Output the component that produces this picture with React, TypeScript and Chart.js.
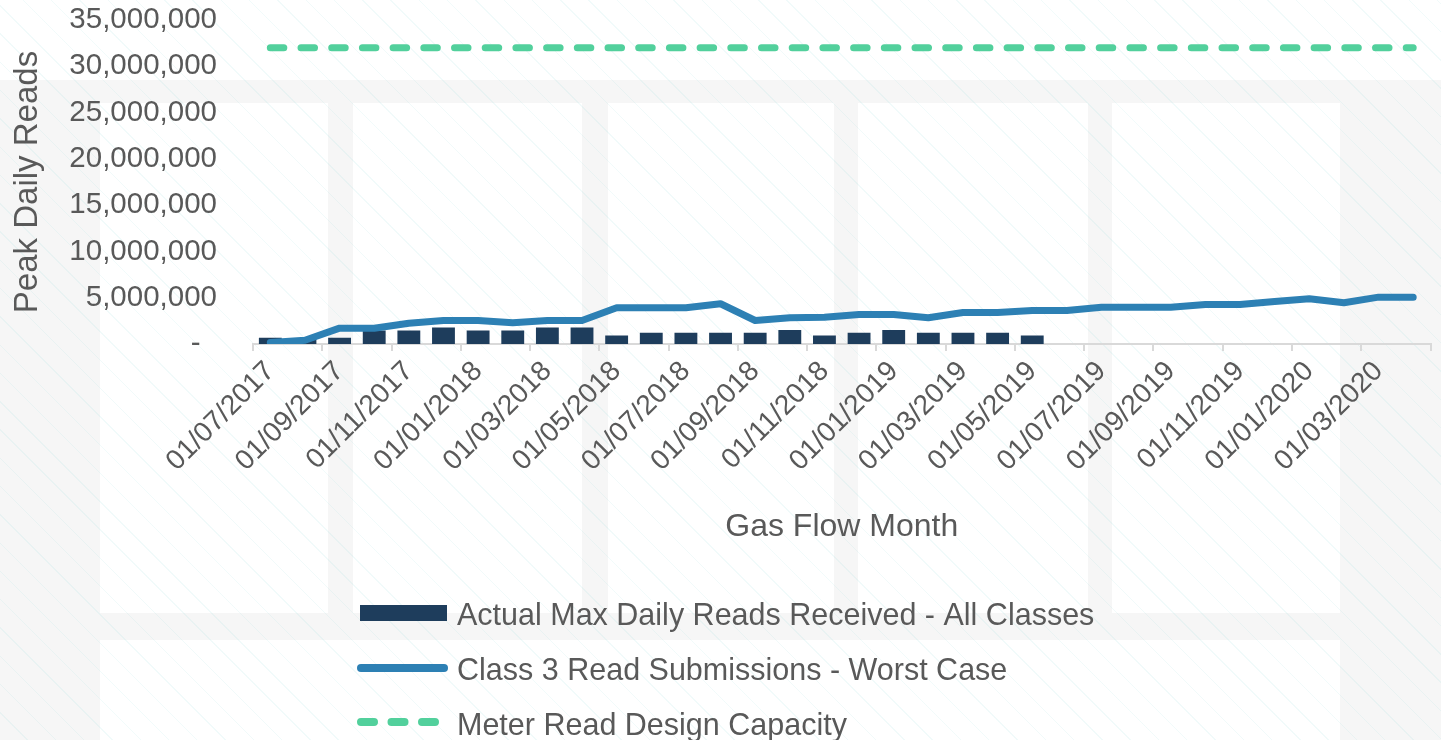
import React, { useEffect, useRef } from 'react';
import { Chart, registerables } from 'chart.js';

Chart.register(...registerables);

const FONT = '"Liberation Sans", Arial, Helvetica, sans-serif';
const TEXT = '#595959';

const months = [
  '01/07/2017', '01/08/2017', '01/09/2017', '01/10/2017', '01/11/2017', '01/12/2017',
  '01/01/2018', '01/02/2018', '01/03/2018', '01/04/2018', '01/05/2018', '01/06/2018',
  '01/07/2018', '01/08/2018', '01/09/2018', '01/10/2018', '01/11/2018', '01/12/2018',
  '01/01/2019', '01/02/2019', '01/03/2019', '01/04/2019', '01/05/2019', '01/06/2019',
  '01/07/2019', '01/08/2019', '01/09/2019', '01/10/2019', '01/11/2019', '01/12/2019',
  '01/01/2020', '01/02/2020', '01/03/2020', '01/04/2020',
];

const actualMaxDailyReads = [
  670000, 500000, 670000, 1460000, 1460000, 1790000, 1460000, 1460000, 1790000, 1790000,
  920000, 1210000, 1210000, 1210000, 1210000, 1500000, 920000, 1210000, 1500000, 1210000,
  1210000, 1210000, 920000, null, null, null, null, null, null, null, null, null, null, null,
];

const class3WorstCase = [
  150000, 400000, 1710000, 1710000, 2250000, 2540000, 2540000, 2290000, 2540000, 2540000,
  3920000, 3920000, 3920000, 4350000, 2540000, 2830000, 2900000, 3190000, 3190000, 2830000,
  3410000, 3410000, 3620000, 3620000, 3980000, 3980000, 3980000, 4270000, 4270000, 4600000,
  4890000, 4460000, 5060000, 5060000,
];

const designCapacity = months.map(() => 32000000);

const seriesNames = [
  'Actual Max Daily Reads Received - All Classes',
  'Class 3 Read Submissions - Worst Case',
  'Meter Read Design Capacity',
];

const yTicks = { min: 0, max: 35000000, step: 5000000 };

const BAR_COLOR = '#1e3d5c';
const LINE_COLOR = '#2d80b4';
const DASH_COLOR = '#52d09c';

const legendPlugin = {
  id: 'customLegend',
  afterDraw(chart: any) {
    const ctx = chart.ctx as CanvasRenderingContext2D;
    const ds = chart.data.datasets;
    const symX0 = 360;
    const symX1 = 447;
    const textX = 457;
    const centers = [613, 668, 722];
    const baselines = [625, 680, 735];
    ctx.save();
    ds.forEach((d: any, i: number) => {
      const cy = centers[i];
      if (d.type === 'bar' || !d.type) {
        ctx.fillStyle = d.backgroundColor;
        ctx.fillRect(symX0, cy - 8, symX1 - symX0, 16);
      } else {
        const dashed = d.borderDash && d.borderDash.length;
        ctx.strokeStyle = d.borderColor;
        ctx.lineWidth = 8;
        ctx.lineCap = 'round';
        ctx.setLineDash(dashed ? [13, 17.5] : []);
        ctx.beginPath();
        ctx.moveTo(symX0 + 1, cy);
        ctx.lineTo(dashed ? 440 : symX1 - 3, cy);
        ctx.stroke();
        ctx.setLineDash([]);
      }
      ctx.fillStyle = TEXT;
      ctx.font = `30.5px ${FONT}`;
      ctx.textAlign = 'left';
      ctx.textBaseline = 'alphabetic';
      ctx.fillText(d.label, textX, baselines[i]);
    });
    ctx.restore();
  },
};

const GRAY = '#f6f6f6';

const bgBlocks: Array<[number, number, number, number]> = [
  [0, 80, 1441, 23],
  [0, 103, 100, 637],
  [1340, 103, 101, 637],
  [328, 103, 25, 510],
  [582, 103, 26, 510],
  [834, 103, 24, 510],
  [1088, 103, 24, 510],
  [100, 613, 1240, 27],
];

export default function App() {
  const canvasRef = useRef<HTMLCanvasElement | null>(null);

  useEffect(() => {
    if (!canvasRef.current) return;
    const chart = new Chart(canvasRef.current, {
      type: 'bar',
      data: {
        labels: months,
        datasets: [
          {
            type: 'bar',
            label: seriesNames[0],
            data: actualMaxDailyReads as any,
            backgroundColor: BAR_COLOR,
            barPercentage: 0.66,
            categoryPercentage: 1,
            order: 2,
          },
          {
            type: 'line',
            label: seriesNames[1],
            data: class3WorstCase,
            borderColor: LINE_COLOR,
            backgroundColor: LINE_COLOR,
            borderWidth: 7,
            pointRadius: 0,
            tension: 0,
            borderCapStyle: 'round',
            borderJoinStyle: 'round',
            order: 0,
          } as any,
          {
            type: 'line',
            label: seriesNames[2],
            data: designCapacity,
            borderColor: DASH_COLOR,
            backgroundColor: DASH_COLOR,
            borderWidth: 7,
            borderDash: [13.5, 17.2],
            pointRadius: 0,
            tension: 0,
            borderCapStyle: 'round',
            order: 1,
          } as any,
        ],
      },
      options: {
        responsive: false,
        animation: false,
        layout: { padding: { left: 8, right: 3, top: 20, bottom: 194 } },
        plugins: {
          legend: { display: false },
          tooltip: { enabled: false },
        },
        scales: {
          x: {
            offset: true,
            grid: {
              offset: true,
              drawOnChartArea: false,
              drawTicks: true,
              tickLength: 7,
              lineWidth: 2,
              color: (c: any) =>
                c.index === undefined || c.index % 2 === 0 ? '#d9d9d9' : 'rgba(0,0,0,0)',
            },
            border: { display: true, color: '#d9d9d9', width: 2 },
            ticks: {
              autoSkip: false,
              maxRotation: 45,
              minRotation: 45,
              padding: 4,
              color: TEXT,
              font: { family: FONT, size: 28 },
              callback: (_v: any, i: number) => (i % 2 === 0 ? months[i] : ''),
            },
            title: {
              display: true,
              text: 'Gas Flow Month',
              color: TEXT,
              font: { family: FONT, size: 32 },
              padding: 0,
            },
            afterFit: (s: any) => {
              s.height = 202;
            },
          },
          y: {
            min: yTicks.min,
            max: yTicks.max,
            grid: { display: false, drawTicks: false },
            border: { display: false },
            ticks: {
              stepSize: yTicks.step,
              padding: 36,
              color: TEXT,
              font: { family: FONT, size: 29.5 },
              callback: (v: any) => (Number(v) === 0 ? '-  ' : Number(v).toLocaleString('en-US')),
            },
            title: {
              display: true,
              text: 'Peak Daily Reads',
              color: TEXT,
              font: { family: FONT, size: 33 },
              padding: 0,
            },
            afterFit: (s: any) => {
              s.width = 245;
              s.paddingTop = 0;
              s.paddingBottom = 0;
            },
          },
        },
      } as any,
      plugins: [legendPlugin],
    });
    return () => chart.destroy();
  }, []);

  return (
    <div
      style={{
        position: 'absolute',
        left: 0,
        top: 0,
        width: 1441,
        height: 740,
        overflow: 'hidden',
        background: '#ffffff',
      }}
    >
      {bgBlocks.map(([x, y, w, h], i) => (
        <div
          key={i}
          style={{ position: 'absolute', left: x, top: y, width: w, height: h, background: GRAY }}
        />
      ))}
      <div
        style={{
          position: 'absolute',
          inset: 0,
          background:
            'repeating-linear-gradient(45deg, rgba(0,0,0,0) 0px, rgba(0,0,0,0) 19px, rgba(120,210,210,0.10) 19px, rgba(120,210,210,0.10) 20px)',
        }}
      />
      <canvas
        ref={canvasRef}
        width={1441}
        height={740}
        style={{ position: 'absolute', left: 0, top: 0, display: 'block' }}
      />
    </div>
  );
}
